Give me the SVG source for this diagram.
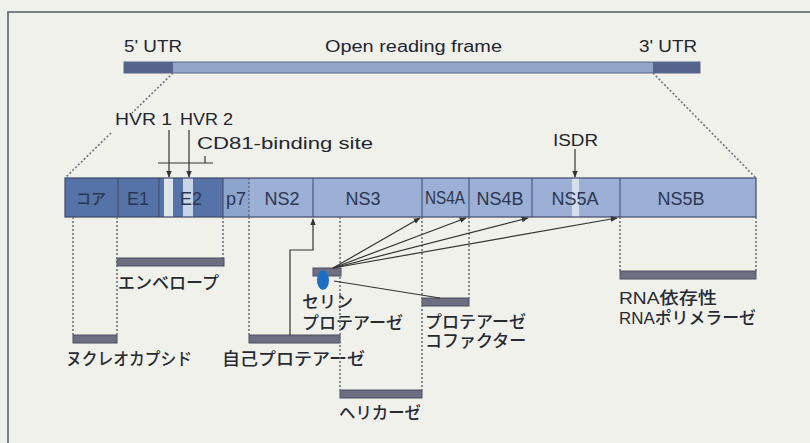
<svg xmlns="http://www.w3.org/2000/svg" width="810" height="443" viewBox="0 0 810 443">
<defs>
<marker id="ah" viewBox="0 0 10 10" refX="9" refY="5" markerWidth="7" markerHeight="7" markerUnits="userSpaceOnUse" orient="auto">
<path d="M0,1 L10,5 L0,9 Z" fill="#333"/>
</marker>
<style>
.en{font-family:"Liberation Sans",Arial,sans-serif;font-size:16px;fill:#22262e}
.seg{font-family:"Liberation Sans",Arial,sans-serif;font-size:18px;fill:#2b3650;text-anchor:middle}
.jp{font-family:"Noto Sans CJK JP","Noto Sans",sans-serif;font-size:17px;font-weight:500;fill:#262a33}
.dot{stroke:#6d727c;stroke-width:1.6;stroke-dasharray:2 2;fill:none}
.pbar{fill:#6e6e82;stroke:#4c4c5e;stroke-width:1}
.ln{stroke:#333;stroke-width:1.2;fill:none}
.dk{fill:#5573a6}
.lt{fill:#9bb0d4}
.div{stroke:#3c4a68;stroke-width:1}
</style>
</defs>
<rect width="810" height="443" fill="#f1f1ec"/>
<path d="M8,443 V12 H810" fill="none" stroke="#7a808a" stroke-width="2"/>

<g id="top-bar">
<rect x="124" y="62" width="576" height="11" fill="#91a6c9" stroke="#5a6a8a" stroke-width="1"/>
<rect x="124" y="62" width="49" height="11" fill="#55648a"/>
<rect x="653" y="62" width="47" height="11" fill="#55648a"/>
<text class="en" x="124" y="52" textLength="58" lengthAdjust="spacingAndGlyphs">5' UTR</text>
<text class="en" x="325" y="52" textLength="177" lengthAdjust="spacingAndGlyphs">Open reading frame</text>
<text class="en" x="639" y="52" textLength="58" lengthAdjust="spacingAndGlyphs">3' UTR</text>
</g>

<g id="genome-bar">
<rect x="65" y="178" width="158" height="39" class="dk"/>
<rect x="223" y="178" width="26" height="39" fill="#8da4cc"/>
<rect x="249" y="178" width="507" height="39" class="lt"/>
<rect x="164" y="178" width="9" height="39" fill="#dfe5ee"/>
<rect x="183" y="178" width="10" height="39" fill="#c9d4e6"/>
<rect x="572" y="178" width="7" height="39" fill="#d6deeb"/>
<rect x="65" y="178" width="691" height="39" fill="none" stroke="#3c4a68" stroke-width="1.2"/>
<line x1="118" y1="178" x2="118" y2="217" class="div"/>
<line x1="159" y1="178" x2="159" y2="217" class="div"/>
<line x1="223" y1="178" x2="223" y2="217" class="div"/>
<line x1="249" y1="178" x2="249" y2="217" class="div" stroke-dasharray="2 2"/>
<line x1="313" y1="178" x2="313" y2="217" class="div"/>
<line x1="422" y1="178" x2="422" y2="217" class="div"/>
<line x1="469" y1="178" x2="469" y2="217" class="div"/>
<line x1="532" y1="178" x2="532" y2="217" class="div"/>
<line x1="620" y1="178" x2="620" y2="217" class="div"/>
<text class="jp" x="91" y="204" style="font-size:15px;fill:#2b3650" text-anchor="middle">コア</text>
<text class="seg" x="138" y="205">E1</text>
<text class="seg" x="191" y="205">E2</text>
<text class="seg" x="236" y="205">p7</text>
<text class="seg" x="282" y="205">NS2</text>
<text class="seg" x="363" y="205">NS3</text>
<text class="seg" x="445" y="204" font-size="15" textLength="40" lengthAdjust="spacingAndGlyphs">NS4A</text>
<text class="seg" x="500" y="205">NS4B</text>
<text class="seg" x="575" y="205">NS5A</text>
<text class="seg" x="681" y="205">NS5B</text>
</g>

<g id="hvr-labels">
<text class="en" x="115" y="125" textLength="57" lengthAdjust="spacingAndGlyphs">HVR 1</text>
<text class="en" x="180" y="125" textLength="53" lengthAdjust="spacingAndGlyphs">HVR 2</text>
<text class="en" x="197" y="149" textLength="176" lengthAdjust="spacingAndGlyphs">CD81-binding site</text>
</g>

<g id="isdr-label">
<text class="en" x="553" y="146" textLength="45" lengthAdjust="spacingAndGlyphs">ISDR</text>
</g>

<g id="nucleocapsid">
<rect x="73" y="335" width="44" height="8" class="pbar"/>
<text class="jp" x="66" y="365" textLength="126" lengthAdjust="spacingAndGlyphs">ヌクレオカプシド</text>
</g>
<g id="envelope">
<rect x="117" y="258" width="107" height="8" class="pbar"/>
<text class="jp" x="118" y="289">エンベロープ</text>
</g>
<g id="autoprotease">
<rect x="249" y="335" width="91" height="8" class="pbar"/>
<text class="jp" x="222" y="365" textLength="143" lengthAdjust="spacingAndGlyphs">自己プロテアーゼ</text>
</g>
<g id="serine-protease">
<rect x="313" y="268" width="28" height="8" class="pbar"/>
<ellipse cx="323" cy="280" rx="6" ry="10" fill="#1c6fc4"/>
<text class="jp" x="302" y="308">セリン</text>
<text class="jp" x="302" y="329">プロテアーゼ</text>
</g>
<g id="helicase">
<rect x="340" y="390" width="82" height="8" class="pbar"/>
<text class="jp" x="339" y="419" textLength="82" lengthAdjust="spacingAndGlyphs">ヘリカーゼ</text>
</g>
<g id="cofactor">
<rect x="422" y="298" width="47" height="8" class="pbar"/>
<text class="jp" x="425" y="328">プロテアーゼ</text>
<text class="jp" x="425" y="347">コファクター</text>
</g>
<g id="rna-polymerase">
<rect x="620" y="271" width="136" height="8" class="pbar"/>
<text class="jp" x="619" y="304" textLength="98" lengthAdjust="spacingAndGlyphs"><tspan font-family="Liberation Sans,Arial,sans-serif">RNA</tspan>依存性</text>
<text class="jp" x="619" y="324" textLength="137" lengthAdjust="spacingAndGlyphs"><tspan font-family="Liberation Sans,Arial,sans-serif">RNA</tspan>ポリメラーゼ</text>
</g>

<g id="connectors">
<line x1="173" y1="73" x2="132" y2="113" class="dot"/>
<line x1="111" y1="133" x2="65" y2="178" class="dot"/>
<line x1="653" y1="73" x2="756" y2="178" class="dot"/>
<line x1="73" y1="217" x2="73" y2="335" class="dot"/>
<line x1="117" y1="217" x2="117" y2="335" class="dot"/>
<line x1="223" y1="217" x2="223" y2="258" class="dot"/>
<line x1="249" y1="217" x2="249" y2="335" class="dot"/>
<line x1="340" y1="217" x2="340" y2="390" class="dot"/>
<line x1="422" y1="217" x2="422" y2="390" class="dot"/>
<line x1="469" y1="217" x2="469" y2="298" class="dot"/>
<line x1="620" y1="217" x2="620" y2="271" class="dot"/>
<line x1="756" y1="217" x2="756" y2="271" class="dot"/>
<line x1="169" y1="130" x2="169" y2="177" class="ln" marker-end="url(#ah)"/>
<line x1="189" y1="130" x2="189" y2="177" class="ln" marker-end="url(#ah)"/>
<path d="M158,163 H213 M205,163 V156" class="ln"/>
<line x1="575" y1="149" x2="575" y2="177" class="ln" marker-end="url(#ah)"/>
<path d="M290,335 V250 H313 V219" class="ln" marker-end="url(#ah)"/>
<line x1="333" y1="268" x2="420" y2="218" class="ln" marker-end="url(#ah)"/>
<line x1="333" y1="268" x2="466" y2="218" class="ln" marker-end="url(#ah)"/>
<line x1="333" y1="268" x2="528" y2="218" class="ln" marker-end="url(#ah)"/>
<line x1="333" y1="268" x2="617" y2="218" class="ln" marker-end="url(#ah)"/>
<line x1="334" y1="281" x2="440" y2="298" class="ln"/>
</g>
</svg>
